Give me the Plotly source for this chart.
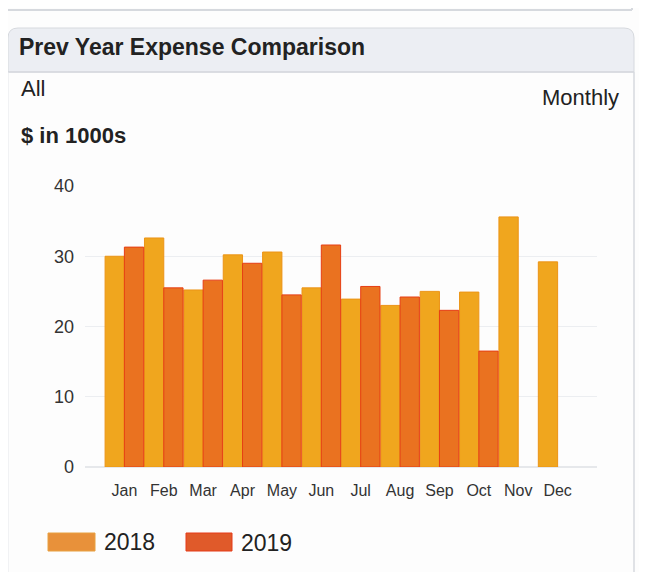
import plotly.graph_objects as go

months = ['Jan', 'Feb', 'Mar', 'Apr', 'May', 'Jun', 'Jul', 'Aug', 'Sep', 'Oct', 'Nov', 'Dec']
exp_2018 = [30.0, 32.6, 25.2, 30.2, 30.6, 25.5, 23.9, 23.0, 25.0, 24.9, 35.6, 29.2]
exp_2019 = [31.3, 25.5, 26.6, 29.0, 24.5, 31.6, 25.7, 24.2, 22.3, 16.5, None, None]
y_ticks = [0, 10, 20, 30, 40]

colors = {
    '2018': '#f0a61e',
    '2018_line': '#ec9416',
    '2019': '#ea7220',
    '2019_line': '#e63e14',
    'sw2018': '#e8913a',
    'sw2019': '#e05a2a',
    'header': '#eceef3',
    'border': '#d6d9de',
    'text': '#222222',
}

OFF = 8  # page margin of the browser body
W, H = 647 - OFF, 572 - OFF
L, R, T, B = 85, 597, 186, 467  # plot area, in screen pixels


def px(x):
    return (x - L) / (R - L)


def py(y):
    return (B - y) / (B - T)


fig = go.Figure()
fig.add_trace(go.Bar(x=months, y=exp_2018, name='2018',
                     marker=dict(color=colors['2018'], line=dict(color=colors['2018_line'], width=1))))
fig.add_trace(go.Bar(x=months, y=exp_2019, name='2019',
                     marker=dict(color=colors['2019'], line=dict(color=colors['2019_line'], width=1))))

shapes = []
# previous card bottom edge
shapes.append(dict(type='line', xref='paper', yref='paper', x0=px(-5), x1=px(632), y0=py(10), y1=py(10),
                   line=dict(color=colors['border'], width=2), layer='below'))
shapes.append(dict(type='line', xref='paper', yref='paper', x0=px(632), x1=px(632), y0=py(-5), y1=py(10),
                   line=dict(color=colors['border'], width=2), layer='below'))
# card header with rounded top corners
r = 10
hdr = (f"M {px(8)},{py(72)} L {px(8)},{py(28 + r)} Q {px(8)},{py(28)} {px(8 + r)},{py(28)} "
       f"L {px(634 - r)},{py(28)} Q {px(634)},{py(28)} {px(634)},{py(28 + r)} L {px(634)},{py(72)} Z")
shapes.append(dict(type='path', xref='paper', yref='paper', path=hdr, fillcolor=colors['header'],
                   line=dict(color=colors['border'], width=1), layer='below'))
shapes.append(dict(type='line', xref='paper', yref='paper', x0=px(8), x1=px(634), y0=py(72), y1=py(72),
                   line=dict(color=colors['border'], width=1.5), layer='below'))
shapes.append(dict(type='line', xref='paper', yref='paper', x0=px(8), x1=px(8), y0=py(72), y1=py(580),
                   line=dict(color='#e6e8eb', width=1), layer='below'))
shapes.append(dict(type='line', xref='paper', yref='paper', x0=px(634), x1=px(634), y0=py(72), y1=py(580),
                   line=dict(color=colors['border'], width=1.5), layer='below'))
# legend swatches
shapes.append(dict(type='rect', xref='paper', yref='paper', x0=px(48), x1=px(95), y0=py(551), y1=py(533),
                   fillcolor=colors['sw2018'], line=dict(color='#e8a040', width=1)))
shapes.append(dict(type='rect', xref='paper', yref='paper', x0=px(186), x1=px(232), y0=py(551), y1=py(533),
                   fillcolor=colors['sw2019'], line=dict(color='#e63a18', width=1)))

font = 'Liberation Sans, Arial, sans-serif'
annotations = [
    dict(text='<b>Prev Year Expense Comparison</b>', x=px(17), y=py(47), xanchor='left', yanchor='middle',
         font=dict(size=23, color=colors['text'])),
    dict(text='All', x=px(19), y=py(88), xanchor='left', yanchor='middle', font=dict(size=22, color=colors['text'])),
    dict(text='Monthly', x=px(621), y=py(97), xanchor='right', yanchor='middle',
         font=dict(size=22, color=colors['text'])),
    dict(text='<b>$ in 1000s</b>', x=px(19), y=py(135), xanchor='left', yanchor='middle',
         font=dict(size=22, color=colors['text'])),
    dict(text='2018', x=px(102), y=py(542), xanchor='left', yanchor='middle', font=dict(size=23, color=colors['text'])),
    dict(text='2019', x=px(239), y=py(543), xanchor='left', yanchor='middle', font=dict(size=23, color=colors['text'])),
]
for a in annotations:
    a.update(xref='paper', yref='paper', showarrow=False)

fig.update_layout(
    width=W, height=H,
    margin=dict(l=L - OFF, r=W + OFF - R, t=T - OFF, b=H + OFF - B, pad=0),
    paper_bgcolor='#fdfdfd',
    plot_bgcolor='#fdfdfd',
    font=dict(family=font, color='#333333'),
    barmode='group', bargap=0.02, bargroupgap=0,
    showlegend=False,
    shapes=shapes,
    annotations=annotations,
    xaxis=dict(range=[-1, 12], showgrid=False, zeroline=False, showline=False,
               tickfont=dict(size=16, color='#333333'), ticklabelstandoff=12),
    yaxis=dict(range=[0, 40], tickvals=y_ticks, gridcolor='#eceef1', zeroline=True, zerolinecolor='#e6e8eb',
               showline=False, tickfont=dict(size=18, color='#333333'), ticklabelstandoff=10),
)

fig.write_html("out.html")
